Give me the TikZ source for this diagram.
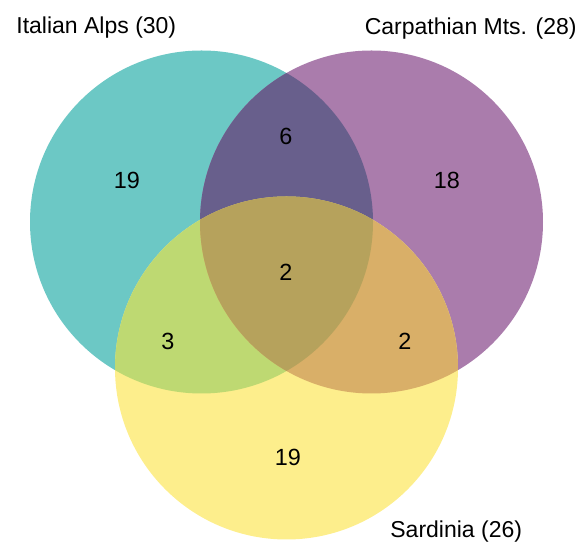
\documentclass[tikz,border=0pt]{standalone}
\usepackage{fontspec}
\setmainfont{Liberation Sans}
\usepackage{tikz}
\usepackage{xcolor}
\definecolor{alpscol}{RGB}{108,200,197}
\definecolor{carpcol}{RGB}{170,124,172}
\definecolor{sardcol}{RGB}{253,238,140}
\definecolor{acol}{RGB}{104,95,140}
\definecolor{ascol}{RGB}{190,217,114}
\definecolor{cscol}{RGB}{217,175,104}
\definecolor{allcol}{RGB}{182,162,92}
\tikzset{
  setlbl/.style={font=\fontsize{11.5}{14}\selectfont,inner sep=0pt},
  numlbl/.style={font=\fontsize{11.7}{14}\selectfont,inner sep=0pt},
}
\def\alps{(201.5,222) circle[radius=171.5]}
\def\carp{(371.5,222) circle[radius=171.5]}
\def\sard{(286.5,368) circle[radius=171.5]}

\begin{document}
\begin{tikzpicture}[x=0.5pt,y=-0.5pt]
  \useasboundingbox (0,0) rectangle (585,544);
  % single sets
  \fill[alpscol] \alps;
  \fill[carpcol] \carp;
  \fill[sardcol] \sard;
  % pairwise overlaps
  \begin{scope}
    \clip \alps;
    \fill[acol] \carp;
    \fill[ascol] \sard;
  \end{scope}
  \begin{scope}
    \clip \carp;
    \fill[cscol] \sard;
  \end{scope}
  % triple overlap
  \begin{scope}
    \clip \alps;
    \clip \carp;
    \fill[allcol] \sard;
  \end{scope}
  % set labels
  \node[setlbl,anchor=base west] (alpslbl) at (16,34) {Italian Alps (30)};
  \node[setlbl,anchor=base east] (carplbl) at (577,35) {Carpathian Mts. (28)};
  \node[setlbl,anchor=base west] (sardlbl) at (390,538) {Sardinia (26)};
  % counts
  \node[numlbl] (nA) at (127,180) {19};
  \node[numlbl] (nC) at (447,180) {18};
  \node[numlbl] (nAC) at (286,136) {6};
  \node[numlbl] (nACS) at (286,272) {2};
  \node[numlbl] (nAS) at (168,341) {3};
  \node[numlbl] (nCS) at (405,341) {2};
  \node[numlbl] (nS) at (288,457) {19};
\end{tikzpicture}
\end{document}
